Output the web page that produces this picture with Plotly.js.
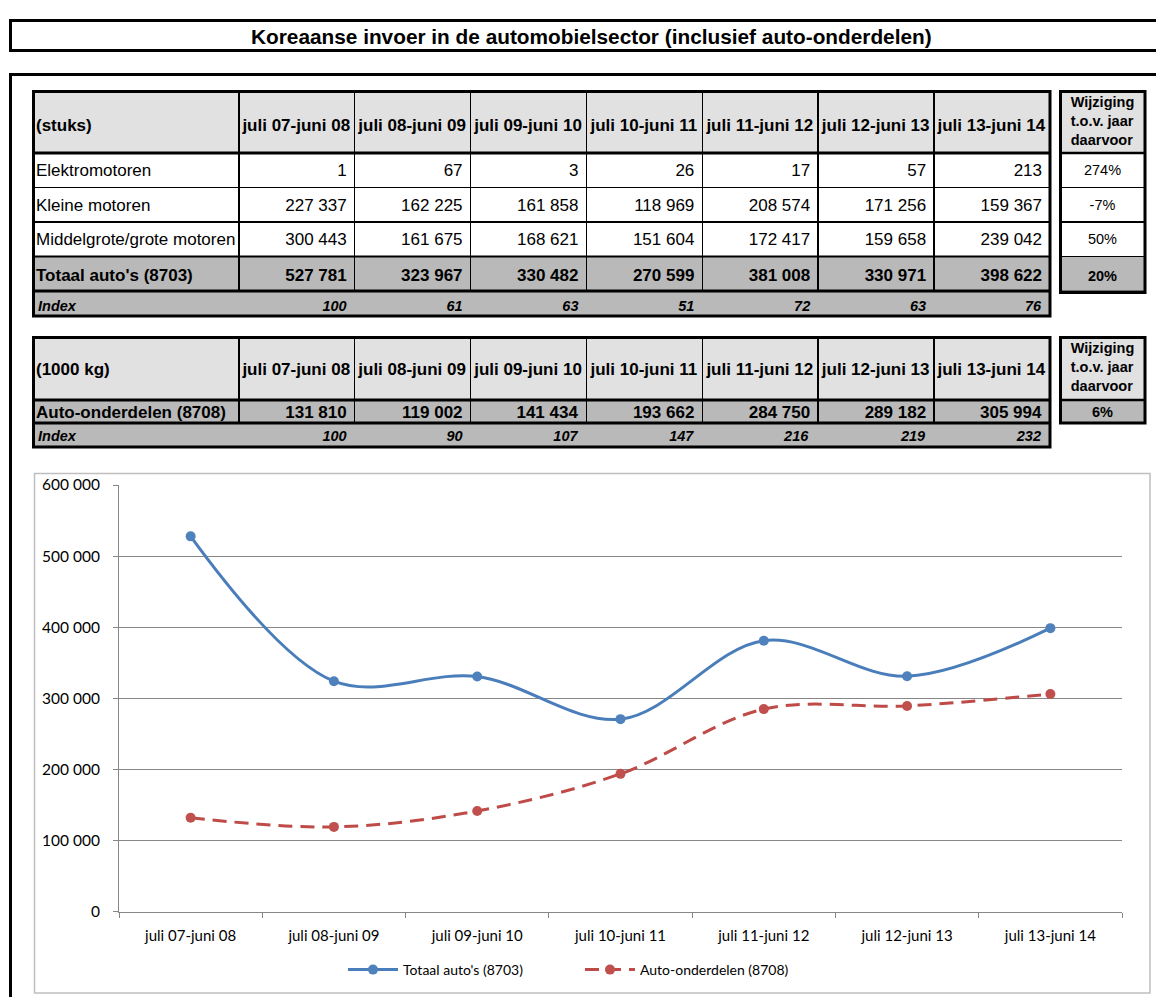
<!DOCTYPE html>
<html>
<head>
<meta charset="utf-8">
<script src="https://cdn.plot.ly/plotly-3.0.1.min.js"></script>
<style>
html,body{margin:0;padding:0;background:#ffffff;}
#chart{width:1156px;height:997px;}
</style>
</head>
<body>
<div id="chart"></div>
<script>
// ---------- data ----------
const periods = ["juli 07-juni 08","juli 08-juni 09","juli 09-juni 10","juli 10-juni 11","juli 11-juni 12","juli 12-juni 13","juli 13-juni 14"];
const rowLabels = ["Elektromotoren","Kleine motoren","Middelgrote/grote motoren","Totaal auto's (8703)"];
const elektromotoren = [1,67,3,26,17,57,213];
const kleineMotoren = [227337,162225,161858,118969,208574,171256,159367];
const groteMotoren = [300443,161675,168621,151604,172417,159658,239042];
const totaalAutos = [527781,323967,330482,270599,381008,330971,398622];
const indexAutos = [100,61,63,51,72,63,76];
const autoOnderdelen = [131810,119002,141434,193662,284750,289182,305994];
const indexOnderdelen = [100,90,107,147,216,219,232];
const wijzigingAutos = ["274%","-7%","50%","20%"];
const wijzigingOnderdelen = ["6%"];
const seriesNames = ["Totaal auto's (8703)","Auto-onderdelen (8708)"];
const unitLabels = ["(stuks)","(1000 kg)"];
const wijzigingHeader = ["Wijziging","t.o.v. jaar","daarvoor"];

// ---------- helpers ----------
const W = 1156, H = 997;
const px = x => x / W;
const py = y => 1 - y / H;
const nb = s => String(s).replace(/ /g, '\u00A0');
const fmt = n => nb(String(n).replace(/\B(?=(\d{3})+(?!\d))/g, ' '));
const b = s => '<b>' + nb(s) + '</b>';
const bi = s => '<b><i>' + nb(s) + '</i></b>';
const TF = 'Liberation Sans, Arial, sans-serif';
const CF = 'Lato, Carlito, Calibri, sans-serif';
const LIGHT = '#E1E1E1', GRAY = '#B9B9B9', WHITE = '#FFFFFF', CLEAR = 'rgba(0,0,0,0)';
const colW = [206].concat(periods.map(() => 116));
const alignHead = ['left'].concat(periods.map(() => 'center'));
const alignCells = ['left'].concat(periods.map(() => 'right'));
const X0 = 33, X1 = 1050, WX0 = 1060, WX1 = 1145;

const traces = [];
// one table row = a fill/line table + a transparent text table (for vertical placement)
function row(o) {
  const cw = o.colW || [o.x1 - o.x0];
  traces.push({
    type: 'table',
    domain: {x: [px(o.x0), px(o.x1)], y: [py(o.top + o.h), py(o.top)]},
    columnwidth: cw,
    header: {
      values: o.texts.map(() => ['']), height: o.h,
      fill: {color: o.fill}, line: {color: o.line || '#000', width: 1.5},
      font: {family: TF, size: 10, color: '#000'}
    },
    cells: {values: []}
  });
  const dx = o.dx || 0;
  const cw2 = cw.slice(); cw2[0] = cw2[0] + dx;
  traces.push({
    type: 'table',
    domain: {x: [px(o.x0 - dx), px(o.x1)], y: [py(o.top + o.shift + o.h + 60), py(o.top + o.shift)]},
    columnwidth: cw2,
    header: {
      values: o.texts.map(t => [t]), height: o.h, align: o.align,
      fill: {color: CLEAR}, line: {color: CLEAR, width: 0},
      font: {family: TF, size: o.size, color: '#000'}
    },
    cells: {values: []}
  });
}

// ---- Table 1 (stuks) ----
row({x0: X0, x1: X1, top: 91, h: 62, colW: colW, dx: 5, shift: 16.5, size: 17,
     texts: [b(unitLabels[0])].concat(periods.map(b)), align: alignHead, fill: LIGHT});
const dataRows = [elektromotoren, kleineMotoren, groteMotoren];
const rowTops = [153, 187.5, 222, 256.5];
dataRows.forEach((arr, i) => {
  row({x0: X0, x1: X1, top: rowTops[i], h: 34.5, colW: colW, dx: 5, shift: 2.5, size: 17,
       texts: [nb(rowLabels[i])].concat(arr.map(fmt)), align: alignCells, fill: WHITE});
});
row({x0: X0, x1: X1, top: rowTops[3], h: 34.5, colW: colW, dx: 5, shift: 1.5, size: 17,
     texts: [b(rowLabels[3])].concat(totaalAutos.map(v => '<b>' + fmt(v) + '</b>')), align: alignCells, fill: GRAY});
row({x0: X0, x1: X1, top: 291, h: 25, colW: colW, dx: 3, shift: -1.5, size: 14.5,
     texts: [bi('Index')].concat(indexAutos.map(bi)), align: alignCells, fill: GRAY, line: GRAY});

// ---- Wijziging 1 ----
row({x0: WX0, x1: WX1, top: 91, h: 62, shift: -5, size: 14.5,
     texts: ['<b>' + wijzigingHeader.join('<br>') + '</b>'], align: 'center', fill: LIGHT});
wijzigingAutos.forEach((v, i) => {
  row({x0: WX0, x1: WX1, top: rowTops[i], h: 34.5, shift: 3.5, size: 14.5,
       texts: [i === 3 ? b(v) : v], align: 'center', fill: i === 3 ? GRAY : WHITE});
});

// ---- Table 2 (1000 kg) ----
row({x0: X0, x1: X1, top: 337, h: 63, colW: colW, dx: 5, shift: 14.5, size: 17,
     texts: [b(unitLabels[1])].concat(periods.map(b)), align: alignHead, fill: LIGHT});
row({x0: X0, x1: X1, top: 400, h: 23, colW: colW, dx: 5, shift: -5.5, size: 17,
     texts: [b(seriesNames[1])].concat(autoOnderdelen.map(v => '<b>' + fmt(v) + '</b>')), align: alignCells, fill: GRAY});
row({x0: X0, x1: X1, top: 423, h: 24, colW: colW, dx: 3, shift: -3, size: 14.5,
     texts: [bi('Index')].concat(indexOnderdelen.map(bi)), align: alignCells, fill: GRAY, line: GRAY});

// ---- Wijziging 2 ----
row({x0: WX0, x1: WX1, top: 337, h: 63, shift: -5, size: 14.5,
     texts: ['<b>' + wijzigingHeader.join('<br>') + '</b>'], align: 'center', fill: LIGHT});
row({x0: WX0, x1: WX1, top: 400, h: 23, shift: -4.5, size: 14.5,
     texts: wijzigingOnderdelen.map(b), align: 'center', fill: GRAY});

// ---- Chart lines ----
traces.push({
  type: 'scatter', mode: 'lines+markers', name: seriesNames[0],
  x: periods, y: totaalAutos,
  line: {color: '#4A7EBB', width: 3, shape: 'spline', smoothing: 1},
  marker: {color: '#4F81BD', size: 10, symbol: 'circle'},
  xaxis: 'x', yaxis: 'y'
});
traces.push({
  type: 'scatter', mode: 'lines+markers', name: seriesNames[1],
  x: periods, y: autoOnderdelen,
  line: {color: '#BE4B48', width: 3, shape: 'spline', smoothing: 1, dash: '14px,8px'},
  marker: {color: '#C0504D', size: 10, symbol: 'circle'},
  xaxis: 'x', yaxis: 'y'
});

function rect(x0, y0, x1, y1, color, width) {
  return {type: 'rect', xref: 'paper', yref: 'paper', x0: px(x0), x1: px(x1), y0: py(y0), y1: py(y1),
          line: {color: color, width: width}, fillcolor: CLEAR, layer: 'above'};
}
function hline(x0, x1, y, width) {
  return {type: 'line', xref: 'paper', yref: 'paper', x0: px(x0), x1: px(x1), y0: py(y), y1: py(y),
          line: {color: '#000', width: width}, layer: 'above'};
}

const shapes = [
  rect(10.5, 20.5, 1200, 50.5, '#000', 3),
  rect(10.5, 74.5, 1200, 1100, '#000', 3),
  rect(34.5, 473.5, 1150, 993, '#BFBFBF', 1.5),
  // table 1 borders
  rect(33.5, 91.5, 1050, 316, '#000', 3),
  hline(33, 1050, 153, 3),
  hline(33, 1050, 256.5, 2),
  hline(33, 1050, 291, 3),
  rect(1060.5, 91.5, 1145, 292.5, '#000', 3),
  hline(1060, 1145, 153, 2.5),
  // table 2 borders
  rect(33.5, 337.5, 1050, 447, '#000', 3),
  hline(33, 1050, 400, 3),
  hline(33, 1050, 423, 3),
  rect(1060.5, 337.5, 1145, 423, '#000', 3),
  hline(1060, 1145, 400, 2.5)
];

const layout = {
  width: W, height: H,
  margin: {l: 0, r: 0, t: 0, b: 0},
  paper_bgcolor: '#fff', plot_bgcolor: '#fff',
  separators: ', ',
  showlegend: true,
  legend: {
    orientation: 'h', x: px(580), y: py(970), xanchor: 'center', yanchor: 'middle',
    font: {family: CF, size: 14, color: '#000'}, itemwidth: 50, entrywidth: 172, traceorder: 'normal'
  },
  xaxis: {
    domain: [px(119), px(1122)], anchor: 'y', type: 'category',
    range: [-0.5, periods.length - 0.5],
    showline: true, linecolor: '#878787', linewidth: 1,
    ticks: 'outside', tickson: 'boundaries', ticklen: 5, tickcolor: '#878787',
    showgrid: false, zeroline: false, ticklabelstandoff: 10,
    tickfont: {family: CF, size: 15, color: '#000'}
  },
  yaxis: {
    domain: [py(911.5), py(485)], anchor: 'x',
    range: [0, 600000], dtick: 100000, tick0: 0,
    tickformat: ',d',
    showline: true, linecolor: '#878787', linewidth: 1,
    ticks: 'outside', ticklen: 5, tickcolor: '#878787',
    showgrid: true, gridcolor: '#878787', gridwidth: 1, zeroline: false,
    ticklabelstandoff: 10,
    tickfont: {family: CF, size: 15.5, color: '#000'}
  },
  shapes: shapes,
  annotations: [{
    xref: 'paper', yref: 'paper', x: px(591), y: py(36), xanchor: 'center', yanchor: 'middle',
    text: '<b>Koreaanse invoer in de automobielsector (inclusief auto-onderdelen)</b>',
    showarrow: false, font: {family: TF, size: 20.8, color: '#000'}
  }]
};

Plotly.newPlot('chart', traces, layout, {displayModeBar: false, staticPlot: true});
</script>
</body>
</html>
